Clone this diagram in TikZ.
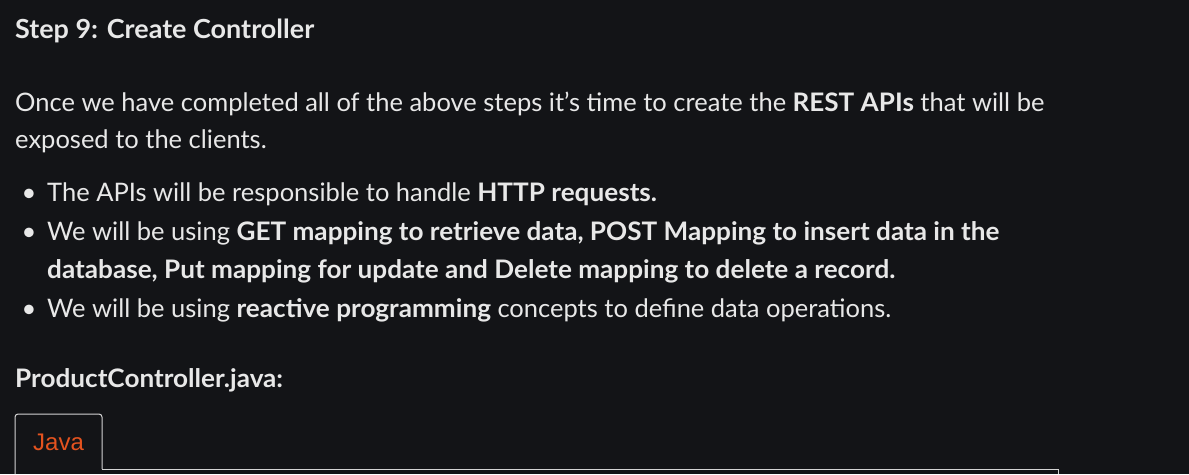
\documentclass[tikz,border=0pt]{standalone}
\usepackage{fontspec}
\setmainfont{Lato}[BoldFeatures={FakeStretch=1.025}]
\newfontfamily\tabfont{Liberation Sans}
\usetikzlibrary{positioning}
\definecolor{pagebg}{HTML}{131417}
\definecolor{bodytext}{HTML}{E8E8E8}
\definecolor{tabline}{HTML}{D4D4D4}
\definecolor{javaorange}{HTML}{E4531F}
\tikzset{
  line/.style={anchor=base west, inner sep=0pt, text=bodytext, font=\fontsize{25.5}{30}\selectfont},
  heading/.style={line, font=\fontsize{25.5}{30}\selectfont\bfseries},
  dot/.style={anchor=base, inner sep=0pt, text=bodytext, font=\fontsize{25.5}{30}\selectfont}
}
\begin{document}
\begin{tikzpicture}[x=1pt,y=-1pt]
			%%%%% PAGE %%%%%
			\fill[pagebg] (0, 0) rectangle (1189, 474);
			\useasboundingbox (0, 0) rectangle (1189, 474);
			
			\node[heading, font=\fontsize{26.3}{30}\selectfont\bfseries] (title) at (15, 38) {Step 9: Create Controller};
			
			\node[line] (intro1) at (15, 111) {Once we have completed all of the above steps it’s time to create the \textbf{REST APIs} that will be};
			\node[line] (intro2) at (15, 148) {exposed to the clients.};
			
			\node[dot] (b1) at (29, 201) {\textbullet};
			\node[line] (item1) at (47, 201) {The APIs will be responsible to handle \textbf{HTTP requests.}};
			\node[dot] (b2) at (29, 240) {\textbullet};
			\node[line] (item2) at (47, 240) {We will be using \textbf{GET mapping to retrieve data, POST Mapping to insert data in the}};
			\node[line] (item2b) at (47, 278) {\textbf{database, Put mapping for update and Delete mapping to delete a record.}};
			\node[dot] (b3) at (29, 317) {\textbullet};
			\node[line] (item3) at (47, 317) {We will be using \textbf{reactive programming} concepts to define data operations.};
			
			\node[heading] (file) at (15, 387) {ProductController.java:};
			
			%%%%% TAB %%%%%
			\draw[tabline, line width=1pt, rounded corners=3] (15, 474) -- (15, 414) -- (102, 414) -- (102, 469);
			\draw[tabline, line width=1pt] (102, 469) -- (1058, 469) -- (1058, 474);
			\node[anchor=base west, inner sep=0pt, text=javaorange, font=\tabfont\fontsize{24}{28}\selectfont] (java) at (33, 450) {Java};
		\end{tikzpicture}
\end{document}
